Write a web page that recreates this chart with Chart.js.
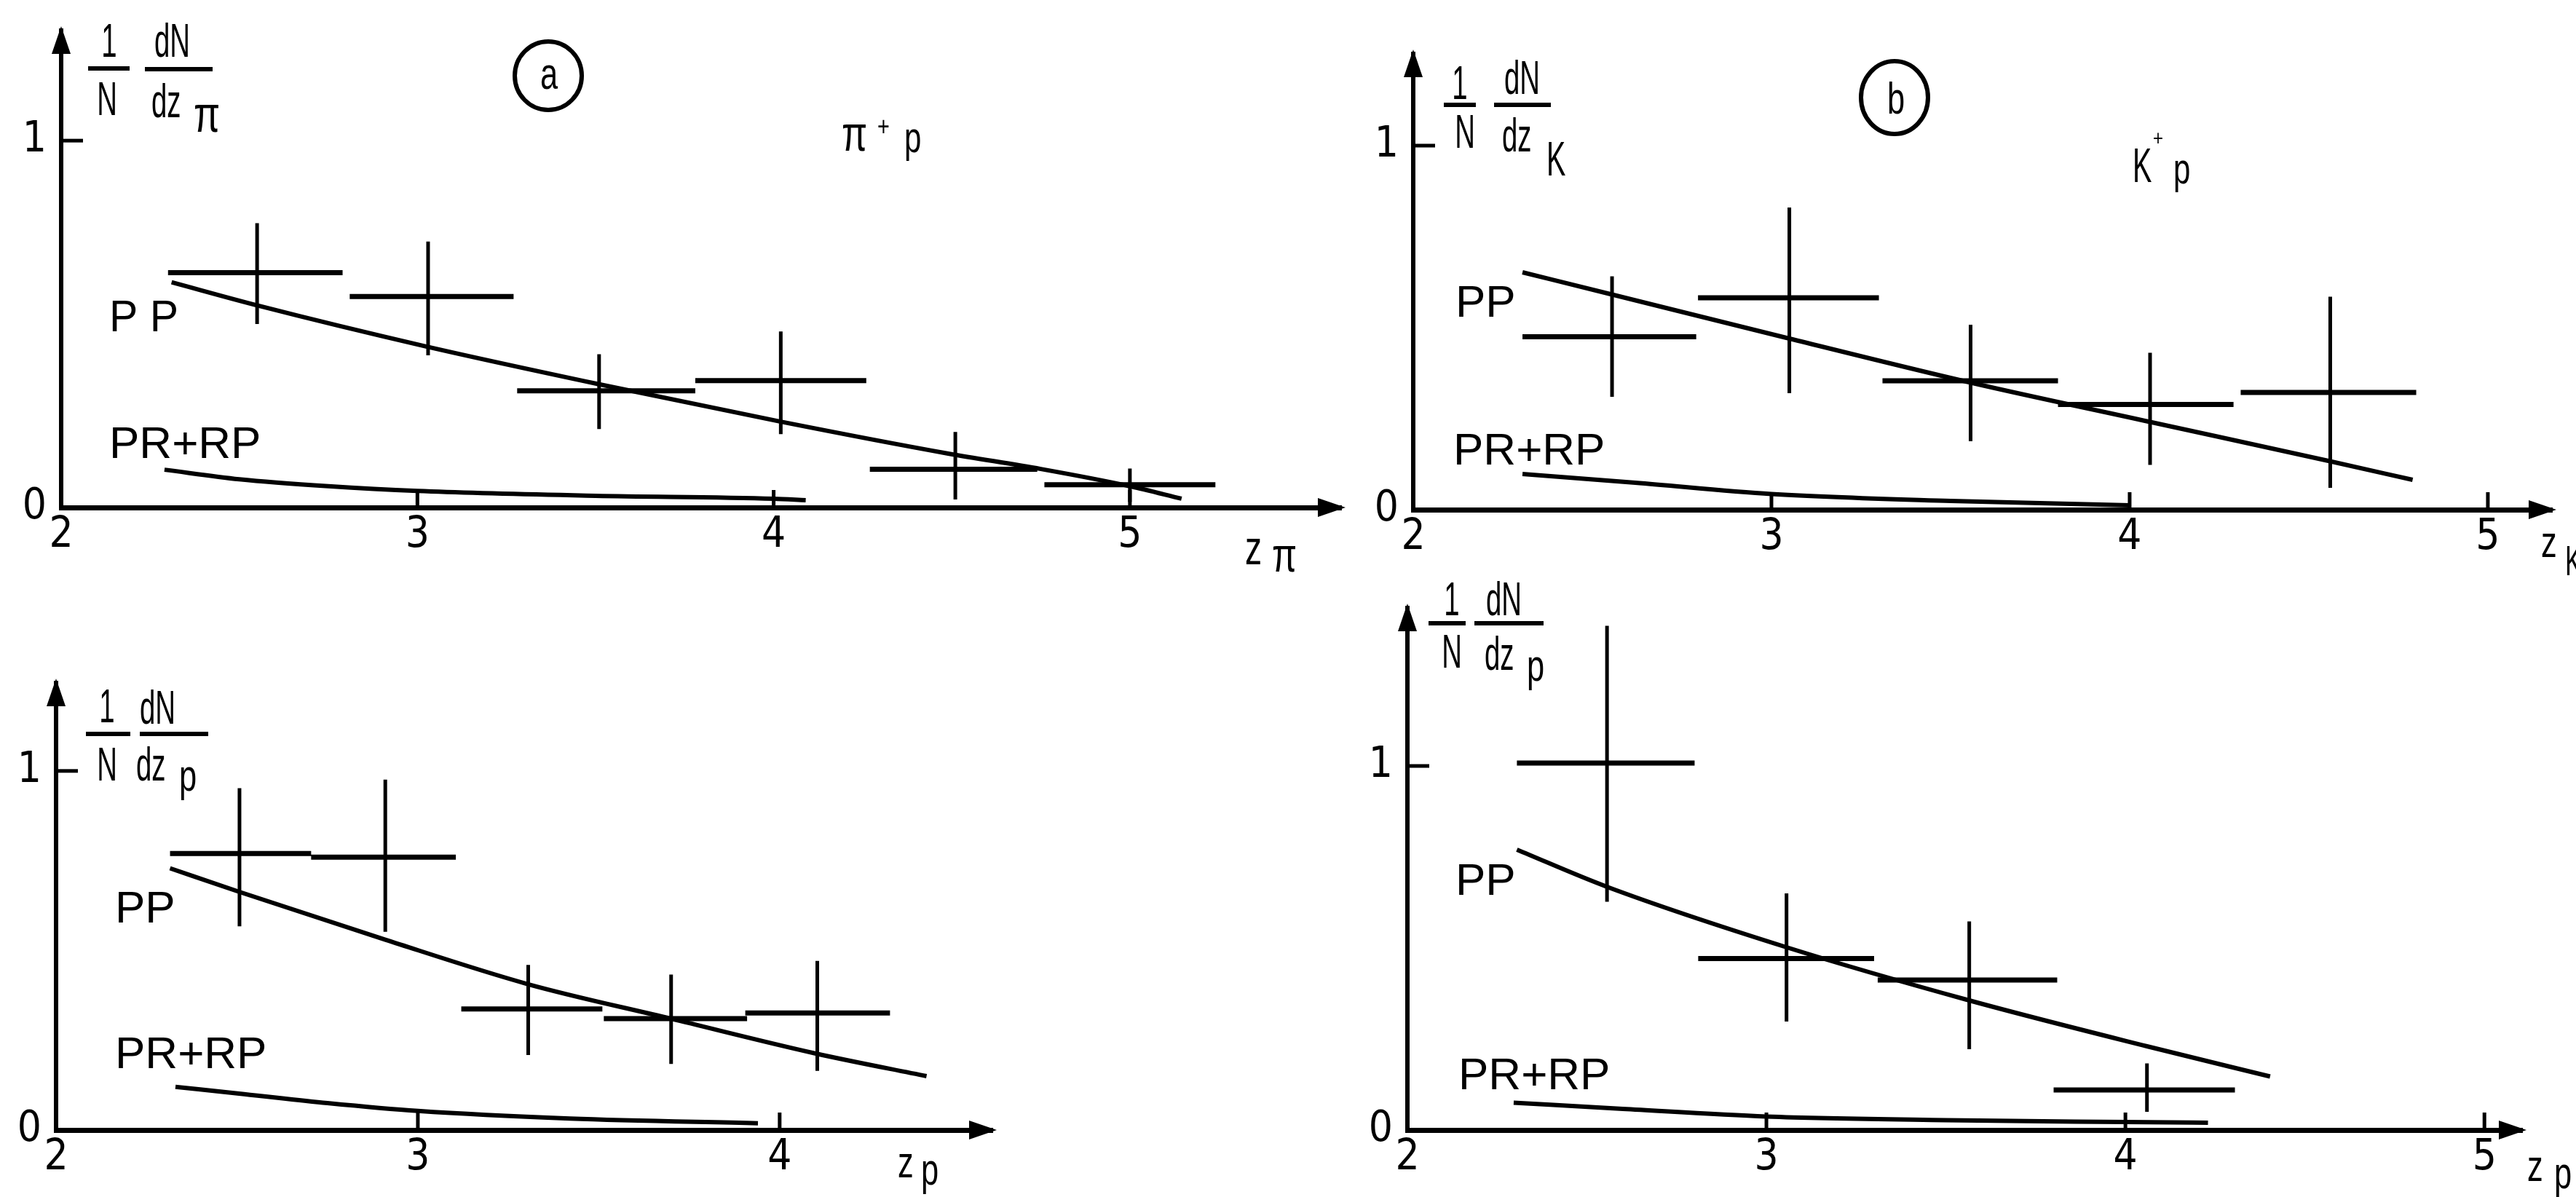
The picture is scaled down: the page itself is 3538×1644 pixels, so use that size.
<!DOCTYPE html>
<html>
<head>
<meta charset="utf-8">
<script src="https://cdn.jsdelivr.net/npm/chart.js@4.4.1/dist/chart.umd.min.js"></script>
<style>
body { margin: 0; background: #fff; width: 3538px; height: 1644px; overflow: hidden; position: relative; }
canvas { position: absolute; }
</style>
</head>
<body>
<canvas id="pa" width="1880" height="810" style="left:0px;top:0px"></canvas>
<canvas id="pb" width="1678" height="810" style="left:1860px;top:0px"></canvas>
<canvas id="pc" width="1500" height="854" style="left:0px;top:790px"></canvas>
<canvas id="pd" width="1678" height="864" style="left:1860px;top:780px"></canvas>
<script>
// (a) pi+ p, z_pi
var aBinLo  = [2.30, 2.81, 3.28, 3.78, 4.27, 4.76];
var aBinHi  = [2.79, 3.27, 3.78, 4.26, 4.74, 5.24];
var aCenter = [2.55, 3.03, 3.51, 4.02, 4.51, 5.00];
var aVal    = [0.640, 0.575, 0.318, 0.346, 0.104, 0.062];
var aErrLo  = [0.500, 0.415, 0.214, 0.200, 0.022, 0.015];
var aErrHi  = [0.775, 0.725, 0.418, 0.480, 0.206, 0.106];
var aPPx = [2.31, 2.55, 3.02, 3.51, 4.02, 4.49, 4.75, 5.00, 5.145];
var aPPy = [0.614, 0.551, 0.440, 0.336, 0.234, 0.147, 0.105, 0.058, 0.024];
var aRPx = [2.29, 2.50, 2.75, 3.00, 3.50, 4.00, 4.09];
var aRPy = [0.103, 0.077, 0.058, 0.045, 0.032, 0.024, 0.020];

// (b) K+ p, z_K
var bBinLo  = [2.305, 2.795, 3.31, 3.80, 4.31];
var bBinHi  = [2.79, 3.30, 3.80, 4.29, 4.80];
var bCenter = [2.555, 3.05, 3.556, 4.057, 4.56];
var bVal    = [0.475, 0.582, 0.354, 0.289, 0.322];
var bErrLo  = [0.310, 0.320, 0.188, 0.123, 0.060];
var bErrHi  = [0.641, 0.830, 0.508, 0.431, 0.585];
var bPPx = [2.305, 2.555, 3.05, 3.556, 4.057, 4.555, 4.79];
var bPPy = [0.652, 0.591, 0.470, 0.349, 0.241, 0.134, 0.082];
var bRPx = [2.305, 2.62, 3.00, 3.50, 4.00];
var bRPy = [0.098, 0.074, 0.043, 0.024, 0.012];

// (c) pi+ p, z_p
var cBinLo  = [2.315, 2.705, 3.12, 3.514, 3.905];
var cBinHi  = [2.705, 3.105, 3.51, 3.91, 4.305];
var cCenter = [2.507, 2.91, 3.305, 3.70, 4.104];
var cVal    = [0.770, 0.760, 0.337, 0.310, 0.326];
var cErrLo  = [0.567, 0.552, 0.209, 0.184, 0.165];
var cErrHi  = [0.952, 0.976, 0.460, 0.433, 0.471];
var cPPx = [2.315, 2.507, 2.91, 3.305, 3.70, 4.10, 4.406];
var cPPy = [0.729, 0.663, 0.530, 0.406, 0.310, 0.213, 0.150];
var cRPx = [2.33, 2.52, 2.75, 3.00, 3.42, 3.94];
var cRPy = [0.120, 0.100, 0.075, 0.053, 0.032, 0.019];

// (d) K+ p, z_p
var dBinLo  = [2.305, 2.81, 3.31, 3.80];
var dBinHi  = [2.80, 3.30, 3.81, 4.305];
var dCenter = [2.556, 3.056, 3.565, 4.06];
var dVal    = [1.008, 0.471, 0.412, 0.110];
var dErrLo  = [0.627, 0.298, 0.222, 0.050];
var dErrHi  = [1.385, 0.650, 0.573, 0.183];
var dPPx = [2.305, 2.556, 3.056, 3.565, 4.06, 4.403];
var dPPy = [0.770, 0.668, 0.502, 0.356, 0.230, 0.147];
var dRPx = [2.296, 2.60, 3.00, 3.50, 4.00, 4.23];
var dRPy = [0.075, 0.058, 0.037, 0.027, 0.022, 0.020];

// tick labels
var xTicksLong  = [2, 3, 4, 5];
var xTicksShort = [2, 3, 4];
var yTicks      = [0, 1];

var INK = '#000';
var tickFont = "'Liberation Sans Narrow', 'DejaVu Sans Condensed', 'Liberation Sans', sans-serif";
var textFont = "'Liberation Sans', Arial, sans-serif";

function pts(xs, ys) {
    return xs.map(function (x, i) { return { x: x, y: ys[i] }; });
}
function bars(lo, hi, v) {
    var out = [];
    lo.forEach(function (l, i) { out.push({ x: l, y: v[i] }, { x: hi[i], y: v[i] }, { x: hi[i], y: null }); });
    return out;
}
function errs(c, lo, hi) {
    var out = [];
    c.forEach(function (x, i) { out.push({ x: x, y: lo[i] }, { x: x, y: hi[i] }, { x: x, y: null }); });
    return out;
}

function say(ctx, s, x, y, size, sx, align) {
    ctx.save();
    ctx.translate(x, y);
    ctx.scale(sx, 1);
    ctx.font = size + 'px ' + textFont;
    ctx.textAlign = align || 'left';
    ctx.textBaseline = 'alphabetic';
    ctx.fillStyle = INK;
    ctx.fillText(s, 0, 0);
    ctx.restore();
}

// page layout of each panel (page pixels)
var panels = [
    {
        id: 'pa', left: 0, top: 0, w: 1880, h: 810,
        x0: 84, x1: 1842, yTop: 42, y0: 697, xMax: 5.593, yMax: 1.30, xTicks: xTicksLong,
        bins: [aBinLo, aBinHi, aVal], errs: [aCenter, aErrLo, aErrHi], pp: [aPPx, aPPy], rp: [aRPx, aRPy],
        notes: [
            ['t', '1', 150, 78, 64, 0.6, 'center'], ['bar', 121, 178, 94], ['t', 'N', 147, 158, 64, 0.6, 'center'],
            ['t', 'dN', 212, 78, 64, 0.6], ['bar', 199, 292, 95], ['t', 'dz', 208, 161, 64, 0.6], ['t', 'π', 266, 181, 70, 0.75],
            ['ring', 753, 104, 46, 47], ['t', 'a', 754, 122, 62, 0.7, 'center'],
            ['t', 'π', 1156, 207, 68, 0.75], ['t', '+', 1205, 186, 36, 0.8], ['t', 'p', 1242, 209, 60, 0.7],
            ['t', 'P P', 150, 455, 62, 0.95], ['t', 'PR+RP', 150, 629, 62, 1],
            ['t', 'z', 1710, 775, 66, 0.7], ['t', 'π', 1747, 785, 66, 0.75]
        ]
    },
    {
        id: 'pb', left: 1860, top: 0, w: 1678, h: 810,
        x0: 1941, x1: 3505, yTop: 74, y0: 700, xMax: 5.179, yMax: 1.252, xTicks: xTicksLong,
        bins: [bBinLo, bBinHi, bVal], errs: [bCenter, bErrLo, bErrHi], pp: [bPPx, bPPy], rp: [bRPx, bRPy],
        notes: [
            ['t', '1', 2005, 136, 64, 0.6, 'center'], ['bar', 1983, 2027, 144], ['t', 'N', 2012, 203, 64, 0.6, 'center'],
            ['t', 'dN', 2066, 129, 64, 0.6], ['bar', 2052, 2130, 144], ['t', 'dz', 2063, 208, 64, 0.6], ['t', 'K', 2124, 241, 66, 0.6],
            ['ring', 2602, 134, 46, 50], ['t', 'b', 2604, 156, 62, 0.7, 'center'],
            ['t', 'K', 2929, 250, 66, 0.6], ['t', '+', 2957, 200, 30, 0.8], ['t', 'p', 2985, 252, 60, 0.7],
            ['t', 'PP', 1999, 435, 62, 1], ['t', 'PR+RP', 1996, 638, 62, 1],
            ['t', 'z', 3490, 765, 62, 0.7], ['t', 'K', 3523, 790, 58, 0.6]
        ]
    },
    {
        id: 'pc', left: 0, top: 790, w: 1500, h: 854,
        x0: 77, x1: 1363, yTop: 938, y0: 1552, xMax: 4.588, yMax: 1.245, xTicks: xTicksShort,
        bins: [cBinLo, cBinHi, cVal], errs: [cCenter, cErrLo, cErrHi], pp: [cPPx, cPPy], rp: [cRPx, cRPy],
        notes: [
            ['t', '1', 147, 992, 64, 0.6, 'center'], ['bar', 118, 179, 1008], ['t', 'N', 147, 1072, 64, 0.6, 'center'],
            ['t', 'dN', 192, 994, 64, 0.6], ['bar', 192, 286, 1008], ['t', 'dz', 187, 1072, 64, 0.6], ['t', 'p', 246, 1086, 62, 0.7],
            ['t', 'PP', 158, 1267, 62, 1], ['t', 'PR+RP', 158, 1467, 62, 1],
            ['t', 'z', 1233, 1617, 62, 0.7], ['t', 'p', 1265, 1627, 62, 0.7]
        ]
    },
    {
        id: 'pd', left: 1860, top: 780, w: 1678, h: 864,
        x0: 1933, x1: 3464, yTop: 835, y0: 1552, xMax: 5.105, yMax: 1.434, xTicks: xTicksLong,
        bins: [dBinLo, dBinHi, dVal], errs: [dCenter, dErrLo, dErrHi], pp: [dPPx, dPPy], rp: [dRPx, dRPy],
        notes: [
            ['t', '1', 1994, 845, 64, 0.6, 'center'], ['bar', 1962, 2013, 856], ['t', 'N', 1994, 917, 64, 0.6, 'center'],
            ['t', 'dN', 2041, 845, 64, 0.6], ['bar', 2025, 2120, 856], ['t', 'dz', 2039, 920, 64, 0.6], ['t', 'p', 2097, 935, 62, 0.7],
            ['t', 'PP', 1999, 1229, 62, 1], ['t', 'PR+RP', 2003, 1496, 62, 1],
            ['t', 'z', 3471, 1622, 62, 0.7], ['t', 'p', 3508, 1632, 62, 0.7]
        ]
    }
];

var decor = {
    id: 'decor',
    afterDraw: function (chart) {
        var p = chart.options.plugins.decor.panel;
        var ctx = chart.ctx, area = chart.chartArea;
        var xs = chart.scales.x, ys = chart.scales.y;
        var ox = xs.getPixelForValue(2), oy = ys.getPixelForValue(0);
        ctx.save();
        ctx.fillStyle = INK;
        ctx.strokeStyle = INK;
        ctx.lineCap = 'butt';
        // arrow heads
        ctx.beginPath();
        ctx.moveTo(area.right + 6, oy);
        ctx.lineTo(area.right - 32, oy - 13);
        ctx.lineTo(area.right - 32, oy + 13);
        ctx.closePath();
        ctx.fill();
        ctx.beginPath();
        ctx.moveTo(ox, area.top - 6);
        ctx.lineTo(ox - 13, area.top + 32);
        ctx.lineTo(ox + 13, area.top + 32);
        ctx.closePath();
        ctx.fill();
        // inner tick marks
        ctx.lineWidth = 5;
        p.xTicks.slice(1).forEach(function (v) {
            var px = xs.getPixelForValue(v);
            ctx.beginPath(); ctx.moveTo(px, oy); ctx.lineTo(px, oy - 24); ctx.stroke();
        });
        yTicks.slice(1).forEach(function (v) {
            var py = ys.getPixelForValue(v);
            ctx.beginPath(); ctx.moveTo(ox, py); ctx.lineTo(ox + 30, py); ctx.stroke();
        });
        // labels
        p.notes.forEach(function (n) {
            if (n[0] === 't') {
                say(ctx, n[1], n[2] - p.left, n[3] - p.top, n[4], n[5], n[6]);
            } else if (n[0] === 'bar') {
                ctx.lineWidth = 6;
                ctx.beginPath(); ctx.moveTo(n[1] - p.left, n[3] - p.top); ctx.lineTo(n[2] - p.left, n[3] - p.top); ctx.stroke();
            } else if (n[0] === 'ring') {
                ctx.lineWidth = 6;
                ctx.beginPath(); ctx.ellipse(n[1] - p.left, n[2] - p.top, n[3], n[4], 0, 0, Math.PI * 2); ctx.stroke();
            }
        });
        ctx.restore();
    }
};

panels.forEach(function (p) {
    var line = { borderColor: INK, pointRadius: 0, fill: false, showLine: true };
    new Chart(document.getElementById(p.id), {
        type: 'line',
        data: {
            datasets: [
                Object.assign({ label: 'bins', data: bars(p.bins[0], p.bins[1], p.bins[2]), borderWidth: 7 }, line),
                Object.assign({ label: 'errors', data: errs(p.errs[0], p.errs[1], p.errs[2]), borderWidth: 5 }, line),
                Object.assign({ label: 'PP', data: pts(p.pp[0], p.pp[1]), borderWidth: 6, cubicInterpolationMode: 'monotone' }, line),
                Object.assign({ label: 'PR+RP', data: pts(p.rp[0], p.rp[1]), borderWidth: 6, cubicInterpolationMode: 'monotone' }, line)
            ]
        },
        options: {
            responsive: false,
            animation: false,
            layout: { padding: { left: 0, top: p.yTop - p.top, right: p.left + p.w - p.x1, bottom: 0 } },
            plugins: { legend: { display: false }, tooltip: { enabled: false }, decor: { panel: p } },
            scales: {
                x: {
                    type: 'linear', min: 2, max: p.xMax,
                    afterBuildTicks: function (s) { s.ticks = p.xTicks.map(function (v) { return { value: v }; }); },
                    afterFit: function (s) { s.height = p.top + p.h - p.y0; s.paddingLeft = 0; s.paddingRight = 0; },
                    grid: { display: false, drawTicks: false },
                    border: { display: true, color: INK, width: 7 },
                    ticks: { color: INK, padding: 4, maxRotation: 0, autoSkip: false, font: { family: tickFont, size: 58 } }
                },
                y: {
                    type: 'linear', min: 0, max: p.yMax,
                    afterBuildTicks: function (s) { s.ticks = yTicks.map(function (v) { return { value: v }; }); },
                    afterFit: function (s) { s.width = p.x0 - p.left; s.paddingTop = 0; s.paddingBottom = 0; },
                    grid: { display: false, drawTicks: false },
                    border: { display: true, color: INK, width: 6 },
                    ticks: { color: INK, padding: 20, autoSkip: false, font: { family: tickFont, size: 58 } }
                }
            }
        },
        plugins: [decor]
    });
});
</script>
</body>
</html>
